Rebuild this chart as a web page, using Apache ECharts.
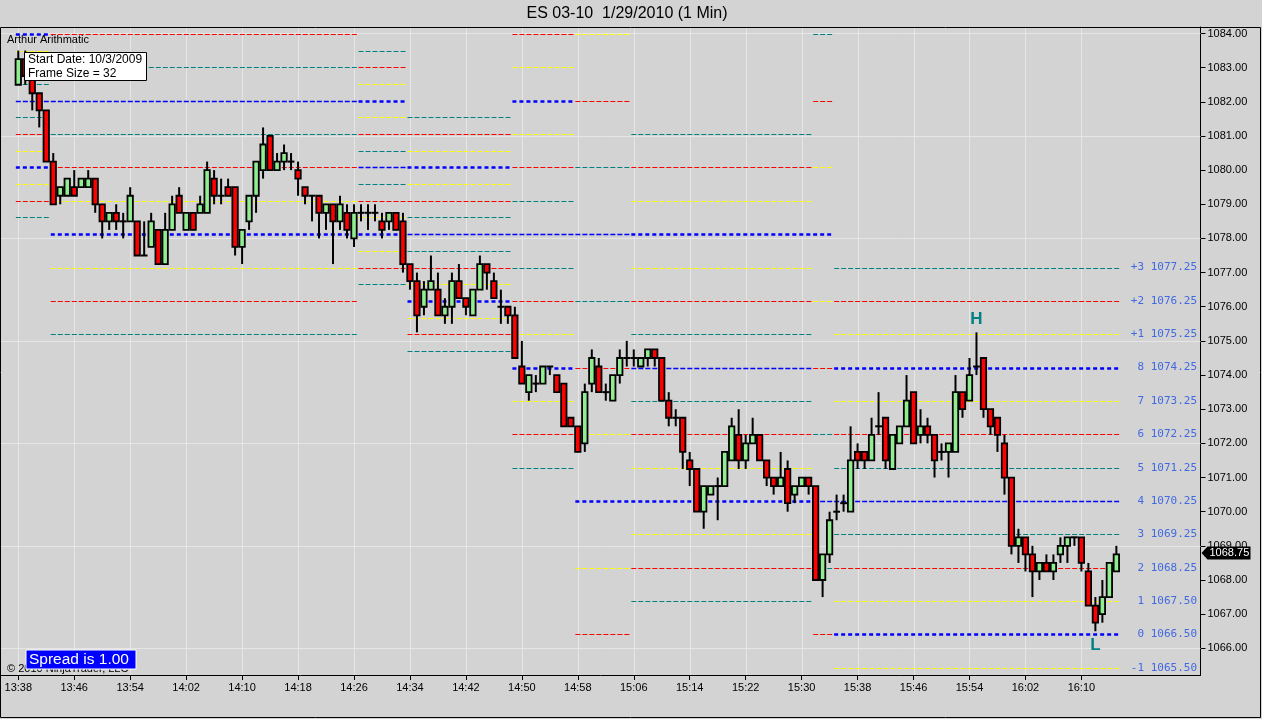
<!DOCTYPE html>
<html>
<head>
<meta charset="utf-8">
<script src="https://cdn.jsdelivr.net/npm/echarts@6/dist/echarts.min.js"></script>
<style>
html,body{margin:0;padding:0;background:#D3D3D3;}
#c{width:1262px;height:719px;}
</style>
</head>
<body>
<div id="c"></div>
<script>
// ---- tick labels ----
const timeLabels = ['13:38','13:46','13:54','14:02','14:10','14:18','14:26','14:34','14:42','14:50',
  '14:58','15:06','15:14','15:22','15:30','15:38','15:46','15:54','16:02','16:10'];
const priceTicks = [1066,1067,1068,1069,1070,1071,1072,1073,1074,1075,1076,1077,1078,1079,1080,1081,1082,1083,1084];
const gridPrices = [1066,1069,1072,1075,1078,1081,1084];

// ---- 1-minute bars: [open, close, low, high] ----
const ohlc = [
[1082.5,1083.25,1082.5,1083.5],[1083.25,1082.75,1082.5,1083.5],[1082.75,1082.25,1081.75,1082.75],
[1082.25,1081.75,1081.25,1082.25],[1081.75,1080.25,1080.25,1081.75],[1080.25,1079,1079,1080.5],
[1079.25,1079.5,1079,1079.5],[1079.25,1079.75,1079.25,1079.75],[1079.5,1079.25,1079.25,1080],
[1079.5,1079.75,1079.5,1079.75],[1079.5,1079.75,1079.5,1080],[1079.75,1079,1078.75,1079.75],
[1079,1078.5,1078,1079],[1078.5,1078.75,1078.25,1078.75],[1078.75,1078.5,1078.25,1079],
[1078.5,1078.5,1078,1078.75],[1078.5,1079.25,1078.5,1079.5],[1078.5,1077.5,1077.5,1078.5],
[1077.5,1077.5,1077.5,1078.5],[1077.75,1078.5,1077.75,1078.75],[1078.25,1077.25,1077.25,1078.25],
[1077.25,1078.25,1077.25,1078.75],[1078.25,1079,1078.25,1079.25],[1079.25,1078.75,1078.75,1079.5],
[1078.25,1078.75,1078.25,1078.75],[1078.75,1078.25,1078.25,1078.75],[1078.75,1079,1078.75,1079.25],
[1078.75,1080,1078.75,1080.25],[1079.75,1079.25,1079,1080],[1079.25,1079.25,1079,1079.75],
[1079.5,1079.25,1079.25,1079.75],[1079.5,1077.75,1077.5,1079.5],[1077.75,1078.25,1077.25,1078.25],
[1078.5,1079.25,1078.25,1079.25],[1079.25,1080.25,1078.75,1080.25],[1080,1080.75,1079.75,1081.25],
[1081,1080,1080,1081],[1080,1080.25,1080,1080.5],[1080.25,1080.5,1080,1080.75],
[1080.25,1080.25,1080,1080.5],[1080,1079.75,1079.25,1080.25],[1079.5,1079.25,1079,1079.5],
[1079.25,1079.25,1078.5,1079.25],[1079.25,1078.75,1078,1079.25],[1078.75,1079,1078.25,1079],
[1079,1078.5,1077.25,1079],[1078.5,1079,1078.25,1079.25],[1078.75,1078.25,1078,1079],
[1078,1078.75,1077.75,1079],[1078.75,1078.75,1078.5,1079],[1078.75,1078.75,1078.25,1079],
[1078.75,1078.75,1078.5,1079],[1078.5,1078.25,1078,1078.75],[1078.5,1078.75,1078.25,1078.75],
[1078.75,1078.25,1078.25,1078.75],[1078.5,1077.25,1077,1078.75],[1077.25,1076.75,1076.5,1077.25],
[1076.75,1075.75,1075.25,1077],[1076,1076.5,1075.75,1076.75],[1076.5,1076.75,1076.5,1077.5],
[1076.5,1075.75,1075.75,1077],[1075.75,1076,1075.5,1076.25],[1076,1076.75,1075.5,1077],
[1076.75,1076.25,1076.25,1077.25],[1076.25,1076,1075.75,1076.25],[1075.75,1076.5,1075.75,1076.5],
[1076.5,1077.25,1076.5,1077.5],[1077.25,1077,1076.5,1077.25],[1076.75,1076.25,1076.25,1077],
[1076,1076,1075.5,1076.5],[1076,1075.75,1075.5,1076],[1075.75,1074.5,1074.5,1076],
[1074.25,1073.75,1073.75,1075],[1073.5,1074,1073.25,1074],[1073.75,1073.75,1073.5,1074],
[1073.75,1074.25,1073.75,1074.25],[1074.25,1074.25,1074,1074.25],[1074,1073.5,1073.5,1074],
[1073.75,1072.5,1072.5,1073.75],[1072.75,1072.5,1072.5,1072.75],[1072.5,1071.75,1071.75,1072.5],
[1072,1073.5,1071.75,1073.75],[1073.75,1074.5,1073.5,1074.75],[1074.25,1073.5,1073.5,1074.5],
[1073.5,1073.5,1073.25,1073.75],[1073.25,1074,1073.25,1074],[1074,1074.5,1073.75,1074.75],
[1074.5,1074.5,1074.25,1075],[1074.5,1074.5,1074.25,1074.75],[1074.25,1074.5,1074.25,1074.5],
[1074.5,1074.75,1074.25,1074.75],[1074.75,1074.5,1074.25,1074.75],[1074.5,1073.25,1073.25,1074.5],
[1073.25,1072.75,1072.5,1073.5],[1072.75,1072.75,1072.5,1073],[1072.75,1071.75,1071.25,1072.75],
[1071.5,1071.25,1070.75,1071.75],[1071.25,1070,1070,1071.25],[1070,1070.75,1069.5,1070.75],
[1070.5,1070.75,1070.5,1070.75],[1070.75,1070.75,1069.75,1071],[1070.75,1071.75,1070.75,1071.75],
[1071.5,1072.5,1071.5,1072.75],[1072.25,1071.5,1071.25,1073],[1071.5,1072,1071.25,1072.25],
[1072,1072.25,1072,1072.75],[1072.25,1071.5,1071.5,1072.25],[1071.5,1071,1070.75,1071.5],
[1071,1070.75,1070.5,1071],[1070.75,1071,1070.75,1071.75],[1071.25,1070.25,1070,1071.5],
[1070.5,1070.75,1070.25,1070.75],[1070.75,1071,1070.75,1071],[1071,1070.75,1070.5,1071],
[1070.75,1068,1068,1070.75],[1068,1068.75,1067.5,1068.75],[1068.75,1069.75,1068.5,1070],
[1070,1070,1069.75,1070.5],[1070.25,1070.25,1070,1070.5],[1070,1071.5,1070,1072.5],
[1071.75,1071.5,1071.25,1072],[1071.75,1071.5,1071.25,1071.75],[1071.5,1072.25,1071.5,1072.75],
[1072.5,1072.5,1072.25,1073.5],[1072.75,1071.5,1071.25,1072.75],[1071.25,1072.25,1071.25,1072.25],
[1072,1072.5,1072,1072.5],[1072.5,1073.25,1072.5,1074],[1073.5,1072,1072,1073.5],
[1072.25,1072.5,1072,1073],[1072.5,1072.25,1072,1072.75],[1072.25,1071.5,1071,1072.25],
[1071.75,1071.75,1071.5,1072],[1071.75,1072,1071,1072],[1071.75,1073.5,1071.75,1074],
[1073.5,1073,1072.75,1073.5],[1073.25,1074,1073.25,1074.5],[1074.25,1074.25,1074,1075.25],
[1074.5,1073,1072.75,1074.5],[1073,1072.5,1072.25,1073],[1072.75,1072.25,1071.75,1072.75],
[1072,1071,1070.5,1072.25],[1071,1069,1068.75,1071],[1069,1069.25,1068.5,1069.5],
[1069.25,1068.75,1068.25,1069.25],[1068.75,1068.25,1067.5,1069],[1068.25,1068.5,1068,1068.5],
[1068.5,1068.25,1068.25,1068.75],[1068.25,1068.5,1068,1068.75],[1068.75,1069,1068.5,1069.25],
[1069,1069.25,1068.5,1069.25],[1069.25,1069.25,1069,1069.25],[1069.25,1068.5,1068.25,1069.25],
[1068.25,1067.25,1067.25,1068.5],[1067.25,1066.75,1066.5,1067.5],[1067,1067.5,1066.75,1068],
[1067.5,1068.5,1067.5,1068.5],[1068.25,1068.75,1068.25,1069]
];

// ---- Murrey-style frames: first/last bar, 0/8 level, 1/8 step, level range ----
const frameFirst = [0, 5, 49, 56, 71, 80, 88, 114, 117];
const frameLast  = [4, 48, 55, 70, 79, 87, 113, 116, 157];
const frameBase  = [1080.078125, 1078.125, 1078.125, 1076.171875, 1074.21875, 1070.3125, 1070.3125, 1062.5, 1066.40625];
const frameStep  = [0.48828125, 0.9765625, 0.48828125, 0.48828125, 0.9765625, 1.953125, 0.9765625, 1.953125, 0.9765625];
const frameLo    = [-3, -3, -3, -3, -3, -2, -3, 2, -1];
const frameHi    = [8, 6, 11, 11, 10, 7, 11, 11, 11];

// ---- labels of the last frame (levels -1 .. +3) ----
const levelTags   = ['-1','0','1','2','3','4','5','6','7','8','+1','+2','+3'];
const levelPrices = ['1065.50','1066.50','1067.50','1068.25','1069.25','1070.25','1071.25','1072.25','1073.25','1074.25','1075.25','1076.25','1077.25'];

// ---- swing marks ----
const hlLabels = ['H', 'L'];
const hlBars   = [137, 154];
const hlSides  = ['high', 'low'];

// ================= build =================
const candleRows = ohlc.map((r, i) => [i, r[0], r[1], r[2], r[3]]);

const levelRows = [];
frameFirst.forEach((f, n) => {
  for (let k = frameLo[n]; k <= frameHi[n]; k++) {
    levelRows.push([f - 0.35, frameLast[n] + 0.55, frameBase[n] + k * frameStep[n], k]);
  }
});

const lastFrame = frameFirst.length - 1;
const labelRows = levelTags.map((t, j) => {
  const k = frameLo[lastFrame] + j;
  return [frameLast[lastFrame], frameBase[lastFrame] + k * frameStep[lastFrame]];
});
const labelTexts = levelTags.map((t, j) => t + ' ' + levelPrices[j]);

const hlRows = hlBars.map((b, n) => [b, hlSides[n] === 'high' ? ohlc[b][3] : ohlc[b][2], n]);
const lastRow = [[ohlc.length - 1, ohlc[ohlc.length - 1][1]]];

function levelStyle(k) {
  const m = ((k % 8) + 8) % 8;
  if (m === 0) return {stroke: '#0000FF', lineWidth: 2.5, lineDash: [4, 3]};
  if (m === 4) return {stroke: '#0000FF', lineWidth: 1.5, lineDash: [5, 2]};
  if (m === 1 || m === 7) return {stroke: '#FFFF00', lineWidth: 1, lineDash: [5, 2]};
  if (m === 2 || m === 6) return {stroke: '#FF0000', lineWidth: 1, lineDash: [5, 2]};
  return {stroke: '#008080', lineWidth: 1, lineDash: [5, 2]};
}

const FONT = '"Liberation Sans", Arial, sans-serif';
const chart = echarts.init(document.getElementById('c'));

const option = {
  animation: false,
  backgroundColor: '#D3D3D3',
  grid: {left: 1, top: 27, width: 1199.5, height: 648, containLabel: false},
  xAxis: {
    type: 'value', min: -2.47, max: 169.03,
    axisLine: {show: true, onZero: false, lineStyle: {color: '#000', width: 1}},
    axisTick: {show: true, length: 5, lineStyle: {color: '#000'}, customValues: timeLabels.map((t, k) => k * 8)},
    axisLabel: {show: true, margin: 7, fontSize: 11, color: '#000', fontFamily: FONT,
      customValues: timeLabels.map((t, k) => k * 8),
      formatter: v => timeLabels[Math.round(v / 8)] || ''},
    splitLine: {show: false}
  },
  yAxis: {
    type: 'value', position: 'right', min: 1065.219, max: 1084.19,
    axisLine: {show: true, onZero: false, lineStyle: {color: '#000', width: 1}},
    axisTick: {show: true, length: 5, lineStyle: {color: '#000'}, customValues: priceTicks},
    axisLabel: {show: true, margin: 7, fontSize: 11, color: '#000', fontFamily: FONT,
      customValues: priceTicks, formatter: v => v.toFixed(2)},
    splitLine: {show: false}
  },
  series: [
    { // vertical grid
      type: 'custom', z: 1, silent: true,
      data: timeLabels.map((t, k) => [k * 8, 1075]),
      encode: {x: 0, y: 1},
      renderItem: (params, api) => {
        const cs = params.coordSys;
        const x = Math.round(api.coord([api.value(0), 1075])[0]) + 0.5;
        return {type: 'line', shape: {x1: x, y1: cs.y, x2: x, y2: cs.y + cs.height},
          style: {stroke: '#E6E6E6', lineWidth: 1}};
      }
    },
    { // horizontal grid
      type: 'custom', z: 1, silent: true,
      data: gridPrices.map(p => [0, p]),
      encode: {x: 0, y: 1},
      renderItem: (params, api) => {
        const cs = params.coordSys;
        const y = Math.round(api.coord([0, api.value(1)])[1]) + 0.5;
        return {type: 'line', shape: {x1: cs.x, y1: y, x2: cs.x + cs.width, y2: y},
          style: {stroke: '#E6E6E6', lineWidth: 1}};
      }
    },
    { // level lines
      type: 'custom', z: 2, silent: true,
      data: levelRows,
      encode: {x: [0, 1], y: 2},
      renderItem: (params, api) => {
        const p1 = api.coord([api.value(0), api.value(2)]);
        const p2 = api.coord([api.value(1), api.value(2)]);
        const y = Math.round(p1[1]) + 0.5;
        return {type: 'line', shape: {x1: p1[0], y1: y, x2: p2[0], y2: y},
          style: levelStyle(api.value(3))};
      }
    },
    { // candles
      type: 'custom', z: 3, silent: true,
      data: candleRows,
      encode: {x: 0, y: [1, 2, 3, 4]},
      renderItem: (params, api) => {
        const i = api.value(0), o = api.value(1), c = api.value(2), lo = api.value(3), hi = api.value(4);
        const pO = api.coord([i, o]);
        const x = pO[0];
        const yO = pO[1], yC = api.coord([i, c])[1], yL = api.coord([i, lo])[1], yH = api.coord([i, hi])[1];
        const half = 2.7;
        const children = [{type: 'line', shape: {x1: x, y1: yH, x2: x, y2: yL}, style: {stroke: '#000', lineWidth: 2}}];
        if (o === c) {
          children.push({type: 'line', shape: {x1: x - 3.4, y1: yO, x2: x + 3.4, y2: yO}, style: {stroke: '#000', lineWidth: 2}});
        } else {
          children.push({type: 'rect', shape: {x: x - half, y: Math.min(yO, yC), width: half * 2, height: Math.abs(yO - yC)},
            style: {fill: c > o ? '#90EE90' : '#FF0000', stroke: '#000', lineWidth: 1.8}});
        }
        return {type: 'group', children};
      }
    },
    { // level labels on right
      type: 'custom', z: 4, silent: true,
      data: labelRows,
      encode: {x: 0, y: 1},
      renderItem: (params, api) => {
        const cs = params.coordSys;
        const y = api.coord([api.value(0), api.value(1)])[1];
        return {type: 'text', x: cs.x + cs.width - 3.5, y: y,
          style: {text: labelTexts[params.dataIndex], fill: '#4169E1', fontSize: 11,
            fontFamily: '"DejaVu Sans Mono", monospace', align: 'right', verticalAlign: 'middle'}};
      }
    },
    { // H / L marks
      type: 'custom', z: 5, silent: true,
      data: hlRows,
      encode: {x: 0, y: 1},
      renderItem: (params, api) => {
        const p = api.coord([api.value(0), api.value(1)]);
        const n = api.value(2);
        const dy = hlSides[n] === 'high' ? -13 : 14;
        return {type: 'text', x: p[0], y: p[1] + dy,
          style: {text: hlLabels[n], fill: '#008080', fontSize: 17, fontWeight: 'bold', fontFamily: FONT,
            align: 'center', verticalAlign: 'middle'}};
      }
    },
    { // last price marker
      type: 'custom', z: 10, silent: true,
      data: lastRow,
      encode: {x: 0, y: 1},
      renderItem: (params, api) => {
        const cs = params.coordSys;
        const y = api.coord([api.value(0), api.value(1)])[1] - 1.5;
        const x0 = cs.x + cs.width + 1;
        return {type: 'group', children: [
          {type: 'polygon', shape: {points: [[x0, y], [x0 + 6, y - 6.5], [x0 + 49, y - 6.5], [x0 + 49, y + 6.5], [x0 + 6, y + 6.5]]},
            style: {fill: '#000'}},
          {type: 'text', x: x0 + 8, y: y, style: {text: api.value(1).toFixed(2), fill: '#FFF', fontSize: 11,
            fontFamily: FONT, align: 'left', verticalAlign: 'middle'}}
        ]};
      }
    }
  ],
  graphic: [
    {type: 'text', x: 627, y: 14, z: 100, style: {text: 'ES 03-10  1/29/2010 (1 Min)', fill: '#000', fontSize: 16,
      fontFamily: FONT, align: 'center', verticalAlign: 'middle'}},
    {type: 'rect', z: 100, shape: {x: 0.5, y: 27.5, width: 1260, height: 690}, style: {fill: null, stroke: '#000', lineWidth: 1}},
    {type: 'text', x: 7, y: 39.5, z: 100, style: {text: 'Arthur Arithmatic', fill: '#000', fontSize: 11,
      fontFamily: FONT, align: 'left', verticalAlign: 'middle'}},
    {type: 'rect', z: 100, shape: {x: 24.5, y: 52.5, width: 122, height: 28}, style: {fill: '#FFF', stroke: '#000', lineWidth: 1}},
    {type: 'text', x: 28, y: 59.8, z: 101, style: {text: 'Start Date: 10/3/2009', fill: '#000', fontSize: 12,
      fontFamily: FONT, align: 'left', verticalAlign: 'middle'}},
    {type: 'text', x: 28, y: 73.3, z: 101, style: {text: 'Frame Size = 32', fill: '#000', fontSize: 12,
      fontFamily: FONT, align: 'left', verticalAlign: 'middle'}},
    {type: 'text', x: 7, y: 668.5, z: 100, style: {text: '\u00A9 2010 NinjaTrader, LLC', fill: '#000', fontSize: 11,
      fontFamily: FONT, align: 'left', verticalAlign: 'middle'}},
    {type: 'rect', z: 101, shape: {x: 26, y: 650, width: 110, height: 19}, style: {fill: '#0000FF', stroke: '#FFF', lineWidth: 1}},
    {type: 'text', x: 29, y: 659.8, z: 102, style: {text: 'Spread is 1.00', fill: '#FFF', fontSize: 15.5,
      fontFamily: FONT, align: 'left', verticalAlign: 'middle'}}
  ]
};
chart.setOption(option);
</script>
</body>
</html>
